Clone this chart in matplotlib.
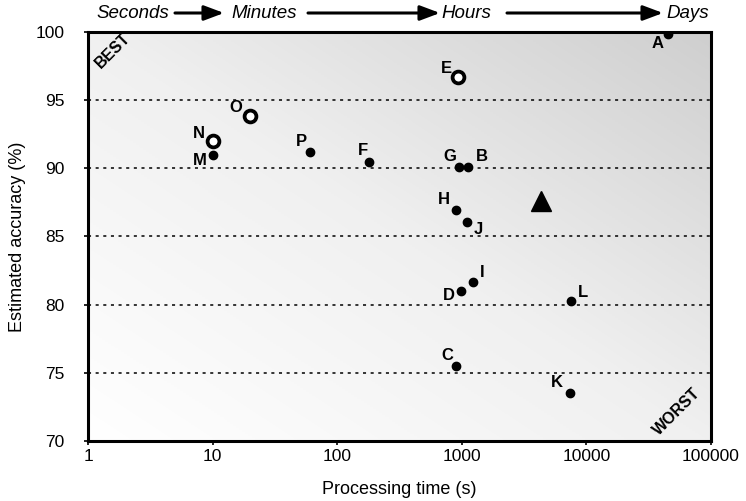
import numpy as np
import matplotlib.pyplot as plt
from matplotlib.colors import LinearSegmentedColormap

plt.rcParams['font.family'] = ['Liberation Sans', 'DejaVu Sans']

# data
filled_labels = ["A", "M", "P", "F", "G", "B", "H", "J", "I", "D", "L", "C", "K"]
filled_time = [45000, 10, 60, 180, 950, 1130, 900, 1100, 1230, 980, 7500, 900, 7400]
filled_acc = [99.85, 91.0, 91.2, 90.5, 90.1, 90.1, 86.95, 86.05, 81.65, 81.0, 80.25, 75.5, 73.55]

open_labels = ["E", "O", "N"]
open_time = [930, 20, 10]
open_acc = [96.7, 93.85, 92.0]

tri_time = [4300]
tri_acc = [87.6]

grid_levels = [75, 80, 85, 90, 95]
x_ticks = [1, 10, 100, 1000, 10000, 100000]
y_ticks = [70, 75, 80, 85, 90, 95, 100]
header = ["Seconds", "Minutes", "Hours", "Days"]

# label offsets in pixels (dx, dy), from marker to label
offsets = {
    "A": (-10, -9), "E": (-11, 9), "O": (-14, 8), "N": (-14, 8), "M": (-13, -6),
    "P": (-8, 10), "F": (-6, 11), "G": (-9, 10), "B": (13, 10), "H": (-12, 10),
    "J": (11, -7), "I": (9, 10), "D": (-12, -5), "L": (12, 9), "C": (-9, 10),
    "K": (-13, 10),
}

fig = plt.figure(figsize=(7.46, 5.01), dpi=100)
ax = fig.add_axes([0.118, 0.12, 0.835, 0.816])

# diagonal white -> grey background
gx, gy = np.meshgrid(np.linspace(0, 1, 200), np.linspace(0, 1, 200))
grad = (gx + (1 - gy)) / 2
cmap = LinearSegmentedColormap.from_list("bg", ["#ffffff", "#f0f0f0", "#cfcfcf"])
ax.imshow(grad, extent=[0, 1, 0, 1], transform=ax.transAxes, cmap=cmap,
          aspect="auto", origin="upper", zorder=0)

for g in grid_levels:
    ax.axhline(g, color="black", lw=1.1, ls=(0, (2, 3)), zorder=1)

ax.plot(filled_time, filled_acc, "o", color="black", ms=6, zorder=3)
ax.plot(open_time, open_acc, "o", mfc="white", mec="black", mew=2.7, ms=8.5, zorder=3)
ax.plot(tri_time, tri_acc, "^", color="black", ms=15, zorder=3)

for lab, x, y in zip(filled_labels + open_labels, filled_time + open_time, filled_acc + open_acc):
    dx, dy = offsets[lab]
    ax.annotate(lab, (x, y), xytext=(dx, dy), textcoords="offset pixels",
                ha="center", va="center", fontsize=12, fontweight="bold", zorder=4)

ax.text(0.04, 0.955, "BEST", transform=ax.transAxes, rotation=45, ha="center", va="center",
        fontsize=11.5, fontweight="bold")
ax.text(0.945, 0.07, "WORST", transform=ax.transAxes, rotation=45, ha="center", va="center",
        fontsize=11.5, fontweight="bold")

ax.set_xscale("log")
ax.set_xlim(1, 100000)
ax.set_ylim(70, 100)
ax.set_xticks(x_ticks)
ax.set_xticklabels([str(t) for t in x_ticks])
ax.minorticks_off()
ax.set_yticks(y_ticks)
ax.tick_params(labelsize=12.5, length=3, width=1.2, direction="out", pad=3)
ax.tick_params(axis="y", pad=14)
for s in ax.spines.values():
    s.set_linewidth(2.2)

ax.set_xlabel("Processing time (s)", fontsize=13, labelpad=12)
ax.set_ylabel("Estimated accuracy (%)", fontsize=13, labelpad=7)

# time-scale header with arrows
hx = [133, 264, 466, 688]
for txt, x in zip(header, hx):
    fig.text(x / 746, 1 - 13 / 501, txt, ha="center", va="center", fontsize=13.5, style="italic")
arrows = [(175, 224), (308, 440), (507, 663)]
for x0, x1 in arrows:
    fig.add_artist(plt.Annotation("", xy=(x1 / 746, 1 - 13 / 501), xytext=(x0 / 746, 1 - 13 / 501),
                                  xycoords="figure fraction",
                                  arrowprops=dict(arrowstyle="-|>,head_length=1.2,head_width=0.45",
                                                  color="black", lw=2.2, shrinkA=0, shrinkB=0)))

fig.savefig("out.png", dpi=100)
